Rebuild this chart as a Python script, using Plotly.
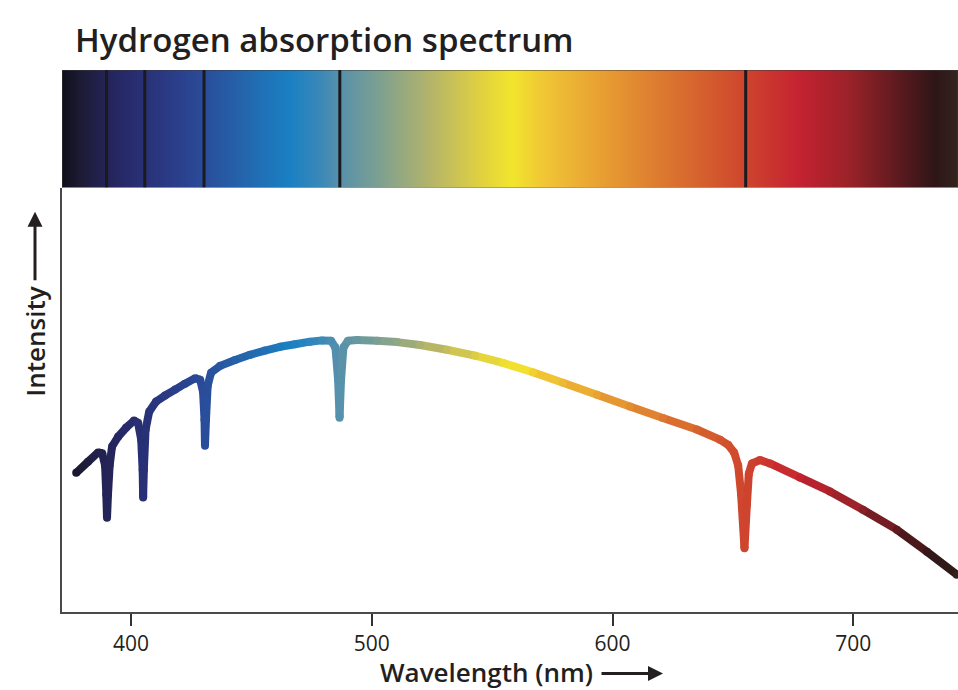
import numpy as np
import plotly.graph_objects as go

# ---- data -------------------------------------------------------------------
WAVELENGTH = [377.2, 382.1, 386.3, 388.0, 389.2, 389.7, 390.0, 390.4, 391.1, 392.1,
              394.6, 397.9, 401.2, 402.9, 404.2, 404.8, 405.0, 405.3, 406.0, 407.5,
              410.4, 414.1, 418.3, 422.4, 426.6, 428.7, 429.9, 430.5, 430.7, 431.1,
              431.8, 433.2, 437.0, 443.2, 449.4, 455.6, 461.9, 468.1, 474.3, 479.3,
              483.1, 484.9, 486.0, 486.6, 487.2, 488.2, 490.1, 493.9, 502.2, 510.5,
              520.0, 531.2, 542.9, 554.5, 566.9, 579.4, 593.5, 607.2, 620.9, 635.0,
              644.6, 648.0, 650.5, 652.2, 653.4, 654.8, 655.8, 656.6, 657.9, 661.2,
              665.4, 677.8, 690.3, 704.0, 718.1, 730.6, 743.0]
INTENSITY = [32.8, 35.4, 37.6, 37.4, 34.5, 27.7, 22.2, 27.7, 34.6, 39.0,
             41.3, 43.4, 45.1, 44.6, 40.6, 33.5, 27.0, 33.5, 42.9, 47.2,
             49.6, 51.0, 52.4, 53.8, 55.1, 54.7, 51.9, 45.3, 39.2, 45.3,
             53.3, 56.4, 58.0, 59.4, 60.6, 61.6, 62.5, 63.1, 63.7, 64.0,
             63.9, 62.3, 54.7, 45.8, 54.7, 62.3, 63.9, 64.1, 63.9, 63.6,
             62.9, 61.8, 60.4, 58.7, 56.5, 54.0, 51.2, 48.4, 45.7, 43.0,
             40.6, 39.4, 37.6, 34.5, 27.7, 15.0, 25.3, 32.6, 35.0, 35.8,
             35.0, 31.7, 28.4, 24.1, 19.4, 14.2, 8.8]

ABSORPTION_LINES = [389.8, 405.7, 430.3, 486.7, 655.3]
TICK_VALUES = [400, 500, 600, 700]
TICK_LABELS = ["400", "500", "600", "700"]
X_RANGE = [371.3, 743.5]

# spectrum colour stops (wavelength, colour)
SPEC_NM = [371.3, 378.8, 387.1, 397.5, 412.0, 428.7, 445.3, 466.0, 478.5, 486.0,
           503.4, 524.2, 545.0, 558.2, 572.0, 594.8, 619.7, 644.6, 661.2, 677.8,
           698.6, 719.4, 733.9, 743.5]
SPEC_COLORS = ["#0f0f1a", "#1c1b33", "#22214f", "#272a6a", "#2a3780", "#2a4a98",
               "#2563aa", "#1a80c3", "#3a88b8", "#5590ac", "#7ea090", "#b4b46a",
               "#e0d040", "#f2e52d", "#f0c535", "#e8a032", "#dc7a30", "#d2552d",
               "#cc3b2e", "#c42231", "#9a2229", "#5a1a1e", "#2e1517", "#33241f"]

TEXT_COLOR = "#231f20"
FONT = "Open Sans"
FIG_W, FIG_H = 958, 690


def hex_to_rgb(h):
    h = h.lstrip("#")
    return [int(h[i:i + 2], 16) for i in (0, 2, 4)]


SPEC_RGB = np.array([hex_to_rgb(c) for c in SPEC_COLORS], dtype=float)


def color_at(nm):
    r = [np.interp(nm, SPEC_NM, SPEC_RGB[:, k]) for k in range(3)]
    return "rgb({:.0f},{:.0f},{:.0f})".format(*r)


fig = go.Figure()

# ---- spectrum bar ------------------------------------------------------------
x0, x1 = X_RANGE
colorscale = [[(nm - x0) / (x1 - x0), c] for nm, c in zip(SPEC_NM, SPEC_COLORS)]
fig.add_trace(go.Scatter(
    x=[x0, x1, x1, x0, x0], y=[0, 0, 1, 1, 0],
    mode="lines", fill="toself",
    line=dict(width=1, color="#3a3a3a"),
    fillgradient=dict(type="horizontal", colorscale=colorscale, start=x0, stop=x1),
    xaxis="x2", yaxis="y2", hoverinfo="skip", showlegend=False))

lx, ly = [], []
for w in ABSORPTION_LINES:
    lx += [w, w, None]
    ly += [0, 1, None]
fig.add_trace(go.Scatter(x=lx, y=ly, mode="lines",
                         line=dict(color="#1b1a1f", width=3),
                         xaxis="x2", yaxis="y2", hoverinfo="skip", showlegend=False))

# ---- gradient-coloured intensity curve ---------------------------------------
for i in range(len(WAVELENGTH) - 1):
    mid = 0.5 * (WAVELENGTH[i] + WAVELENGTH[i + 1])
    fig.add_trace(go.Scatter(
        x=WAVELENGTH[i:i + 2], y=INTENSITY[i:i + 2], mode="lines",
        line=dict(color=color_at(mid), width=8),
        hoverinfo="skip", showlegend=False))
fig.add_trace(go.Scatter(
    x=WAVELENGTH, y=INTENSITY, mode="markers",
    marker=dict(size=8, color=[color_at(w) for w in WAVELENGTH], line=dict(width=0)),
    hoverinfo="skip", showlegend=False))

# ---- layout ------------------------------------------------------------------
BAR_SPLIT = 0.783
M_L, M_T, M_B = 62, 70, 77.5

fig.update_layout(
    width=FIG_W, height=FIG_H,
    margin=dict(l=M_L, r=0, t=M_T, b=M_B, pad=0),
    paper_bgcolor="white", plot_bgcolor="white",
    showlegend=False,
    title=dict(text="Hydrogen absorption spectrum", x=75 / FIG_W, xref="container",
               xanchor="left", y=1 - 40 / FIG_H, yref="container", yanchor="middle",
               font=dict(family=FONT, size=33, weight=600, color=TEXT_COLOR)),
    xaxis=dict(domain=[0, 1], range=X_RANGE, anchor="y",
               showline=True, linecolor="#4a4a4a", linewidth=1.5,
               ticks="outside", ticklen=12, tickwidth=1.5, tickcolor="#333333",
               tickvals=TICK_VALUES, ticktext=TICK_LABELS,
               tickfont=dict(family=FONT, size=21, color=TEXT_COLOR),
               showgrid=False, zeroline=False),
    yaxis=dict(domain=[0, BAR_SPLIT], range=[0, 100], anchor="x",
               showline=True, linecolor="#4a4a4a", linewidth=1.5,
               showticklabels=False, ticks="", showgrid=False, zeroline=False),
    xaxis2=dict(domain=[0, 1], range=X_RANGE, anchor="y2", visible=False),
    yaxis2=dict(domain=[BAR_SPLIT, 1], range=[0, 1], anchor="x2", visible=False),
)

plot_w = FIG_W - M_L
plot_h = FIG_H - M_T - M_B


def px_x(px):  # reference pixel -> paper coordinate
    return (px - M_L) / plot_w


def px_y(py):
    return (FIG_H - M_B - py) / plot_h


fig.add_annotation(text="Wavelength (nm)", xref="paper", yref="paper",
                   x=px_x(486.5), y=px_y(673), showarrow=False,
                   xanchor="center", yanchor="middle",
                   font=dict(family=FONT, size=26, weight=600, color=TEXT_COLOR))
fig.add_annotation(text="", xref="paper", yref="paper", x=px_x(663), y=px_y(674),
                   ax=-63, ay=0, showarrow=True, arrowhead=2, arrowsize=1,
                   arrowwidth=3, arrowcolor=TEXT_COLOR, standoff=0)
fig.add_annotation(text="Intensity", xref="paper", yref="paper",
                   x=px_x(35), y=px_y(342), showarrow=False, textangle=-90,
                   xanchor="center", yanchor="middle",
                   font=dict(family=FONT, size=26, weight=600, color=TEXT_COLOR))
fig.add_annotation(text="", xref="paper", yref="paper", x=px_x(35), y=px_y(212),
                   ax=0, ay=70, showarrow=True, arrowhead=2, arrowsize=1,
                   arrowwidth=3, arrowcolor=TEXT_COLOR, standoff=0)

# remove the default page margin / scrollbars so the figure fills the window
fig.write_html(
    "out.html",
    config={"displayModeBar": False},
    post_script="document.body.style.margin='0';"
                "document.body.style.overflow='hidden';",
)
